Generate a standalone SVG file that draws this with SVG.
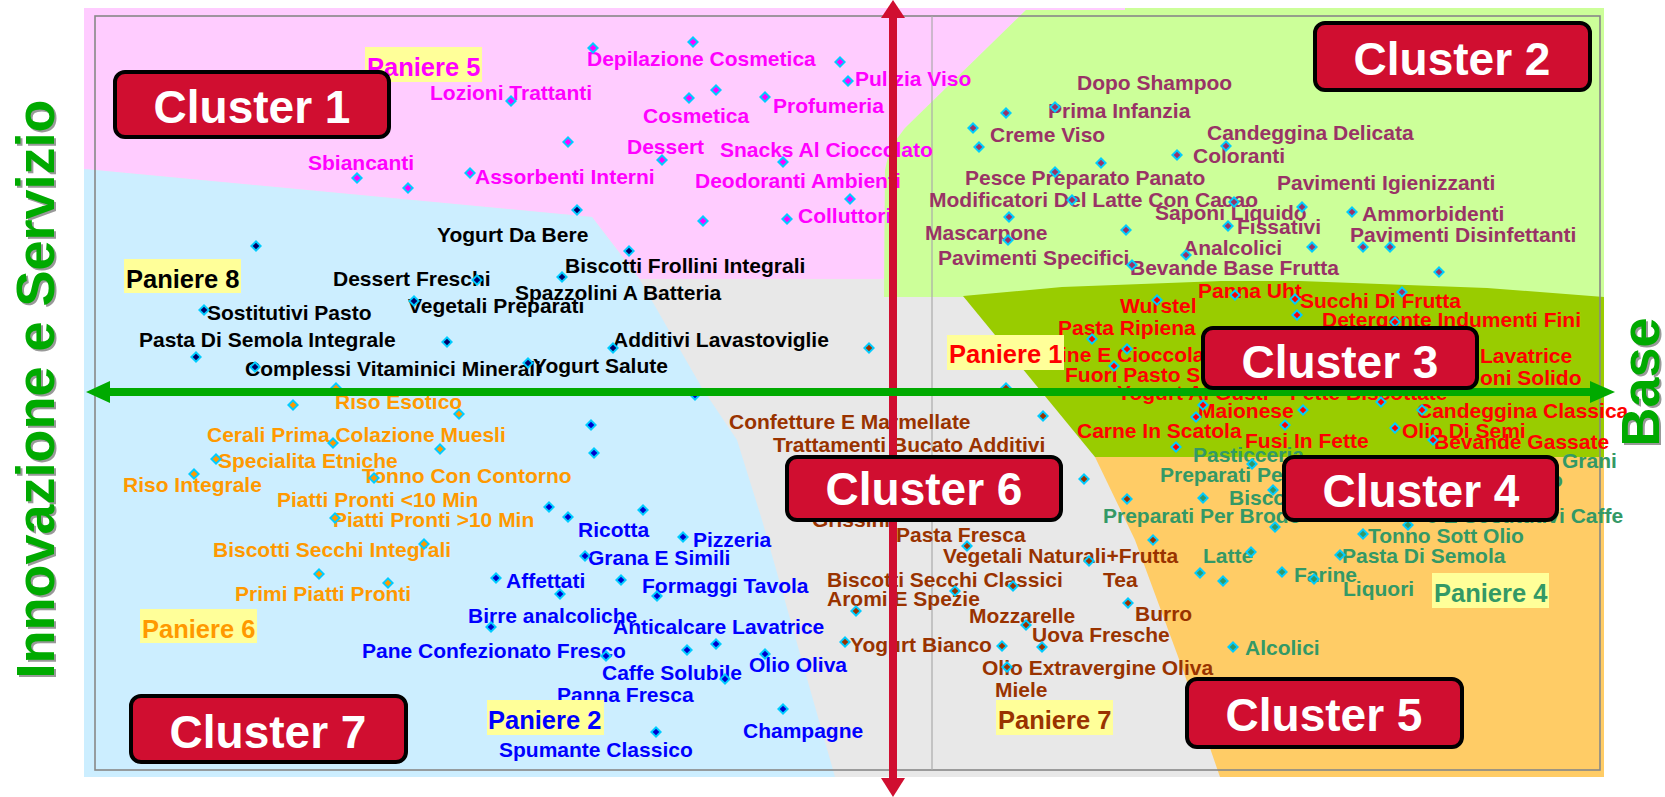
<svg xmlns="http://www.w3.org/2000/svg" xmlns:xlink="http://www.w3.org/1999/xlink" width="1665" height="797" viewBox="0 0 1665 797">
<style>
.t{font-family:"Liberation Sans",Arial,sans-serif;font-weight:bold;font-size:21px}
.p{font-family:"Liberation Sans",Arial,sans-serif;font-weight:bold;font-size:25.5px}
.cl{font-family:"Liberation Sans",Arial,sans-serif;font-weight:bold;font-size:46px;fill:#fff;text-anchor:middle}
.ax{font-family:"Liberation Sans",Arial,sans-serif;font-weight:bold;font-size:54px;text-anchor:middle}
.box{fill:#d00e30;stroke:#000;stroke-width:4}
.yb{fill:#ffff99}
.c1{fill:#ff00ff;color:#ff00ff}
.c8{fill:#000;color:#000066}
.co{fill:#ff9900;color:#ff9900}
.cb{fill:#0000ff;color:#0000cc}
.cr{fill:#993300;color:#993300}
.c2{fill:#993366;color:#993366}
.c3{fill:#ff0000;color:#ff0000}
.c4{fill:#339966;color:#339966}
</style>
<defs>
<g id="m"><path d="M0-6L6 0 0 6-6 0Z" fill="#00ccff"/><path d="M0-3.3L3.3 0 0 3.3-3.3 0Z" fill="currentColor"/></g>
</defs>
<g id="regions">
<rect x="84" y="8" width="1520" height="769" fill="#e8e8e8"/>
<polygon points="84,8 1125,8 1125,10 1026,10 905,128 890,148 885,170 884,279 640,279 592,217 84,169" fill="#ffccff"/>
<polygon points="1026,10 1125,10 1125,8 1604,8 1604,297 884,297 885,170 890,148 905,128" fill="#ccff99"/>
<polygon points="963,296 1062,287 1221,281 1300,281 1487,288 1604,297 1604,457 1095,457" fill="#99cc00"/>
<polygon points="1095,457 1604,457 1604,777 1220,777 1183,670 1135,540" fill="#ffcc66"/>
<polygon points="84,169 592,217 640,280 702,388 737,440 762,520 835,777 84,777" fill="#cceeff"/>
<rect x="95" y="16" width="1505" height="754" fill="none" stroke="#888" stroke-width="1.6"/>
<line x1="932" y1="16" x2="932" y2="770" stroke="#aaa" stroke-width="1.2"/>
</g>
<g id="cluster1-items" class="t c1">
<text x="587" y="66">Depilazione Cosmetica</text>
<text x="430" y="100">Lozioni Trattanti</text>
<text x="855" y="86">Pulizia Viso</text>
<text x="773" y="113">Profumeria</text>
<text x="643" y="123">Cosmetica</text>
<text x="627" y="154">Dessert</text>
<text x="720" y="157">Snacks Al Cioccolato</text>
<text x="308" y="170">Sbiancanti</text>
<text x="475" y="184">Assorbenti Interni</text>
<text x="695" y="188">Deodoranti Ambienti</text>
<text x="798" y="223">Colluttori</text>
</g>
<g id="cluster8-items" class="t c8">
<text x="437" y="242">Yogurt Da Bere</text>
<text x="565" y="273">Biscotti Frollini Integrali</text>
<text x="333" y="286">Dessert Freschi</text>
<text x="515" y="300">Spazzolini A Batteria</text>
<text x="408" y="313">Vegetali Preparati</text>
<text x="207" y="320">Sostitutivi Pasto</text>
<text x="139" y="347">Pasta Di Semola Integrale</text>
<text x="613" y="347">Additivi Lavastoviglie</text>
<text x="245" y="376">Complessi Vitaminici Minerali</text>
<text x="533" y="373">Yogurt Salute</text>
</g>
<g id="cluster7o-items" class="t co">
<text x="335" y="409">Riso Esotico</text>
<text x="207" y="442">Cerali Prima Colazione Muesli</text>
<text x="218" y="468">Specialita Etniche</text>
<text x="362" y="483">Tonno Con Contorno</text>
<text x="123" y="492">Riso Integrale</text>
<text x="277" y="507">Piatti Pronti &lt;10 Min</text>
<text x="333" y="527">Piatti Pronti &gt;10 Min</text>
<text x="213" y="557">Biscotti Secchi Integrali</text>
<text x="235" y="601">Primi Piatti Pronti</text>
</g>
<g id="cluster7b-items" class="t cb">
<text x="578" y="537">Ricotta</text>
<text x="693" y="547">Pizzeria</text>
<text x="588" y="565">Grana E Simili</text>
<text x="506" y="588">Affettati</text>
<text x="642" y="593">Formaggi Tavola</text>
<text x="468" y="623">Birre analcoliche</text>
<text x="613" y="634">Anticalcare Lavatrice</text>
<text x="362" y="658">Pane Confezionato Fresco</text>
<text x="749" y="672">Olio Oliva</text>
<text x="602" y="680">Caffe Solubile</text>
<text x="557" y="702">Panna Fresca</text>
<text x="743" y="738">Champagne</text>
<text x="499" y="757">Spumante Classico</text>
</g>
<g id="cluster6-items" class="t cr">
<text x="729" y="429">Confetture E Marmellate</text>
<text x="773" y="452">Trattamenti Bucato Additivi</text>
<text x="812" y="527">Grissini</text>
<text x="896" y="542">Pasta Fresca</text>
<text x="943" y="563">Vegetali Naturali+Frutta</text>
<text x="827" y="587">Biscotti Secchi Classici</text>
<text x="1103" y="587">Tea</text>
<text x="827" y="606">Aromi E Spezie</text>
<text x="969" y="623">Mozzarelle</text>
<text x="1135" y="621">Burro</text>
<text x="1032" y="642">Uova Fresche</text>
<text x="850" y="652">Yogurt Bianco</text>
<text x="982" y="675">Olio Extravergine Oliva</text>
<text x="995" y="697">Miele</text>
</g>
<g id="cluster2-items" class="t c2">
<text x="1077" y="90">Dopo Shampoo</text>
<text x="1048" y="118">Prima Infanzia</text>
<text x="990" y="142">Creme Viso</text>
<text x="1207" y="140">Candeggina Delicata</text>
<text x="1193" y="163">Coloranti</text>
<text x="965" y="185">Pesce Preparato Panato</text>
<text x="1277" y="190">Pavimenti Igienizzanti</text>
<text x="929" y="207">Modificatori Del Latte Con Cacao</text>
<text x="1155" y="220">Saponi Liquido</text>
<text x="1362" y="221">Ammorbidenti</text>
<text x="1237" y="234">Fissativi</text>
<text x="925" y="240">Mascarpone</text>
<text x="1350" y="242">Pavimenti Disinfettanti</text>
<text x="1183" y="255">Analcolici</text>
<text x="938" y="265">Pavimenti Specifici</text>
<text x="1130" y="275">Bevande Base Frutta</text>
</g>
<g id="cluster3-items" class="t c3">
<text x="1198" y="298">Panna Uht</text>
<text x="1300" y="308">Succhi Di Frutta</text>
<text x="1120" y="313">Wurstel</text>
<text x="1322" y="327">Detergente Indumenti Fini</text>
<text x="1058" y="335">Pasta Ripiena</text>
<text x="1061" y="362">ine E Cioccolato</text>
<text x="1480" y="363">Lavatrice</text>
<text x="1065" y="382">Fuori Pasto S</text>
<text x="1480" y="385">oni Solido</text>
<text x="1117" y="400">Yogurt Al Gusti</text>
<text x="1290" y="400">Fette Biscottate</text>
<text x="1198" y="418">Maionese</text>
<text x="1417" y="418">Candeggina Classica</text>
<text x="1077" y="438">Carne In Scatola</text>
<text x="1402" y="438">Olio Di Semi</text>
<text x="1245" y="448">Fusi In Fette</text>
<text x="1434" y="449">Bevande Gassate</text>
</g>
<g id="cluster4-items" class="t c4">
<text x="1193" y="462">Pasticceria</text>
<text x="1562" y="468">Grani</text>
<text x="1160" y="482">Preparati Pe</text>
<text x="1550" y="487">o</text>
<text x="1229" y="505">Bisco</text>
<text x="1103" y="523">Preparati Per Brodo</text>
<text x="1426" y="523">e E Sostitutivi Caffe</text>
<text x="1368" y="543">Tonno Sott Olio</text>
<text x="1203" y="563">Latte</text>
<text x="1342" y="563">Pasta Di Semola</text>
<text x="1294" y="582">Farine</text>
<text x="1343" y="596">Liquori</text>
<text x="1245" y="655">Alcolici</text>
</g>
<g id="markers">
<g class="c1">
<use href="#m" x="593" y="48"/><use href="#m" x="693" y="42"/><use href="#m" x="840" y="62"/><use href="#m" x="848" y="81"/><use href="#m" x="511" y="101"/><use href="#m" x="689" y="98"/><use href="#m" x="716" y="90"/><use href="#m" x="765" y="97"/><use href="#m" x="568" y="142"/><use href="#m" x="662" y="160"/><use href="#m" x="783" y="162"/><use href="#m" x="470" y="173"/><use href="#m" x="357" y="178"/><use href="#m" x="408" y="188"/><use href="#m" x="703" y="221"/><use href="#m" x="787" y="219"/><use href="#m" x="850" y="199"/>
</g>
<g class="c8">
<use href="#m" x="256" y="246"/><use href="#m" x="577" y="210"/><use href="#m" x="629" y="251"/><use href="#m" x="477" y="280"/><use href="#m" x="562" y="277"/><use href="#m" x="414" y="301"/><use href="#m" x="204" y="310"/><use href="#m" x="196" y="357"/><use href="#m" x="255" y="367"/><use href="#m" x="447" y="342"/><use href="#m" x="528" y="363"/><use href="#m" x="613" y="348"/>
</g>
<g class="co">
<use href="#m" x="336" y="388"/><use href="#m" x="293" y="405"/><use href="#m" x="459" y="414"/><use href="#m" x="440" y="449"/><use href="#m" x="333" y="443"/><use href="#m" x="216" y="459"/><use href="#m" x="194" y="474"/><use href="#m" x="374" y="478"/><use href="#m" x="335" y="518"/><use href="#m" x="424" y="544"/><use href="#m" x="319" y="574"/><use href="#m" x="388" y="583"/>
</g>
<g class="cb">
<use href="#m" x="695" y="395"/><use href="#m" x="591" y="425"/><use href="#m" x="594" y="453"/><use href="#m" x="549" y="507"/><use href="#m" x="568" y="517"/><use href="#m" x="643" y="510"/><use href="#m" x="683" y="537"/><use href="#m" x="585" y="556"/><use href="#m" x="496" y="578"/><use href="#m" x="560" y="594"/><use href="#m" x="621" y="580"/><use href="#m" x="657" y="596"/><use href="#m" x="491" y="627"/><use href="#m" x="606" y="656"/><use href="#m" x="687" y="650"/><use href="#m" x="716" y="644"/><use href="#m" x="765" y="654"/><use href="#m" x="725" y="679"/><use href="#m" x="783" y="709"/><use href="#m" x="656" y="732"/>
</g>
<g class="cr">
<use href="#m" x="869" y="348"/><use href="#m" x="1006" y="388"/><use href="#m" x="1043" y="416"/><use href="#m" x="1084" y="479"/><use href="#m" x="1127" y="499"/><use href="#m" x="967" y="546"/><use href="#m" x="1089" y="561"/><use href="#m" x="955" y="591"/><use href="#m" x="1013" y="586"/><use href="#m" x="856" y="611"/><use href="#m" x="1026" y="625"/><use href="#m" x="1128" y="603"/><use href="#m" x="1042" y="647"/><use href="#m" x="845" y="642"/><use href="#m" x="1002" y="646"/><use href="#m" x="1007" y="667"/><use href="#m" x="1153" y="540"/>
</g>
<g class="c2">
<use href="#m" x="1006" y="113"/><use href="#m" x="1055" y="107"/><use href="#m" x="973" y="128"/><use href="#m" x="979" y="147"/><use href="#m" x="1101" y="163"/><use href="#m" x="1177" y="155"/><use href="#m" x="1226" y="146"/><use href="#m" x="1055" y="172"/><use href="#m" x="1072" y="200"/><use href="#m" x="1234" y="202"/><use href="#m" x="1302" y="207"/><use href="#m" x="1352" y="212"/><use href="#m" x="1228" y="226"/><use href="#m" x="1009" y="217"/><use href="#m" x="1008" y="240"/><use href="#m" x="1126" y="230"/><use href="#m" x="1186" y="255"/><use href="#m" x="1132" y="265"/><use href="#m" x="1312" y="247"/><use href="#m" x="1363" y="247"/><use href="#m" x="1390" y="247"/><use href="#m" x="1439" y="272"/><use href="#m" x="1402" y="292"/>
</g>
<g class="c3">
<use href="#m" x="1157" y="300"/><use href="#m" x="1235" y="295"/><use href="#m" x="1295" y="299"/><use href="#m" x="1297" y="315"/><use href="#m" x="1395" y="322"/><use href="#m" x="1092" y="339"/><use href="#m" x="1127" y="349"/><use href="#m" x="1114" y="366"/><use href="#m" x="1203" y="405"/><use href="#m" x="1196" y="417"/><use href="#m" x="1176" y="447"/><use href="#m" x="1381" y="402"/><use href="#m" x="1303" y="410"/><use href="#m" x="1285" y="425"/><use href="#m" x="1395" y="428"/><use href="#m" x="1422" y="410"/><use href="#m" x="1433" y="440"/>
</g>
<g class="c4">
<use href="#m" x="1252" y="464"/><use href="#m" x="1203" y="498"/><use href="#m" x="1273" y="490"/><use href="#m" x="1275" y="527"/><use href="#m" x="1408" y="525"/><use href="#m" x="1363" y="534"/><use href="#m" x="1251" y="552"/><use href="#m" x="1200" y="573"/><use href="#m" x="1223" y="581"/><use href="#m" x="1340" y="555"/><use href="#m" x="1282" y="572"/><use href="#m" x="1314" y="579"/><use href="#m" x="1233" y="647"/>
</g>
</g>
<g id="panieri">
<g id="paniere5"><rect class="yb" x="365" y="47" width="117" height="35"/><text class="p c1" x="367" y="76">Paniere 5</text></g>
<g id="paniere8"><rect class="yb" x="124" y="259" width="117" height="34"/><text class="p c8" x="126" y="288">Paniere 8</text></g>
<g id="paniere1"><rect class="yb" x="947" y="335" width="117" height="35"/><text class="p c3" x="949" y="363">Paniere 1</text></g>
<g id="paniere6"><rect class="yb" x="140" y="609" width="117" height="34"/><text class="p co" x="142" y="638">Paniere 6</text></g>
<g id="paniere2"><rect class="yb" x="487" y="700" width="117" height="35"/><text class="p cb" x="488" y="729">Paniere 2</text></g>
<g id="paniere7"><rect class="yb" x="996" y="700" width="117" height="35"/><text class="p cr" x="998" y="729">Paniere 7</text></g>
<g id="paniere4"><rect class="yb" x="1432" y="573" width="117" height="35"/><text class="p c4" x="1434" y="602">Paniere 4</text></g>
</g>
<g id="axes">
<line x1="893" y1="16" x2="893" y2="780" stroke="#d00e30" stroke-width="8"/>
<polygon points="893,0 905,18 881,18" fill="#d00e30"/>
<polygon points="893,797 905,778 881,778" fill="#d00e30"/>
<line x1="108" y1="392" x2="1592" y2="392" stroke="#00aa00" stroke-width="8"/>
<polygon points="86,392 110,381 110,403" fill="#00aa00"/>
<polygon points="1615,392 1590,381 1590,403" fill="#00aa00"/>
</g>
<g id="axis-labels">
<text class="ax" transform="translate(56,391) rotate(-90)" fill="#999">Innovazione e Servizio</text>
<text class="ax" transform="translate(54,389) rotate(-90)" fill="#00aa00">Innovazione e Servizio</text>
<text class="ax" transform="translate(1661,384) rotate(-90)" fill="#999">Base</text>
<text class="ax" transform="translate(1659,382) rotate(-90)" fill="#00aa00">Base</text>
</g>
<g id="cluster1"><rect class="box" x="115" y="72" width="274" height="65" rx="10"/><text class="cl" x="252" y="123">Cluster 1</text></g>
<g id="cluster2"><rect class="box" x="1315" y="23" width="275" height="67" rx="10"/><text class="cl" x="1452" y="75">Cluster 2</text></g>
<g id="cluster3"><rect class="box" x="1203" y="328" width="274" height="60" rx="10"/><text class="cl" x="1340" y="378">Cluster 3</text></g>
<g id="cluster4"><rect class="box" x="1284" y="457" width="273" height="63" rx="10"/><text class="cl" x="1421" y="507">Cluster 4</text></g>
<g id="cluster5"><rect class="box" x="1187" y="679" width="275" height="68" rx="10"/><text class="cl" x="1324" y="731">Cluster 5</text></g>
<g id="cluster6"><rect class="box" x="787" y="457" width="274" height="63" rx="10"/><text class="cl" x="924" y="505">Cluster 6</text></g>
<g id="cluster7"><rect class="box" x="131" y="696" width="275" height="66" rx="10"/><text class="cl" x="268" y="748">Cluster 7</text></g>
</svg>
